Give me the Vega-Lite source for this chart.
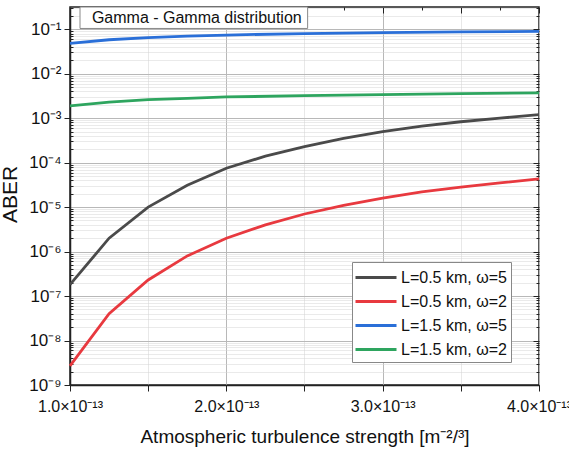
{
  "$schema": "https://vega.github.io/schema/vega-lite/v6.json",
  "width": 469,
  "height": 378,
  "autosize": {"type": "none"},
  "padding": {"left": 70, "top": 7, "right": 30, "bottom": 65},
  "background": "white",
  "config": {
    "font": "Liberation Sans",
    "view": {"stroke": "#222222", "strokeWidth": 1.5},
    "axis": {"labelFont": "Liberation Sans", "titleFont": "Liberation Sans", "labelColor": "#111", "titleColor": "#111", "domainColor": "#222", "tickColor": "#222", "domainWidth": 1.5}
  },
  "layer": [
    {
      "data": {"values": [
        {"x": 1.0e-13, "y": 1.8e-7, "series": "L=0.5 km, ω=5"},
        {"x": 1.25e-13, "y": 2.0e-6, "series": "L=0.5 km, ω=5"},
        {"x": 1.5e-13, "y": 1.0e-5, "series": "L=0.5 km, ω=5"},
        {"x": 1.75e-13, "y": 3.1e-5, "series": "L=0.5 km, ω=5"},
        {"x": 2.0e-13, "y": 7.5e-5, "series": "L=0.5 km, ω=5"},
        {"x": 2.25e-13, "y": 1.4e-4, "series": "L=0.5 km, ω=5"},
        {"x": 2.5e-13, "y": 2.3e-4, "series": "L=0.5 km, ω=5"},
        {"x": 2.75e-13, "y": 3.5e-4, "series": "L=0.5 km, ω=5"},
        {"x": 3.0e-13, "y": 5.0e-4, "series": "L=0.5 km, ω=5"},
        {"x": 3.25e-13, "y": 6.6e-4, "series": "L=0.5 km, ω=5"},
        {"x": 3.5e-13, "y": 8.3e-4, "series": "L=0.5 km, ω=5"},
        {"x": 3.75e-13, "y": 1.0e-3, "series": "L=0.5 km, ω=5"},
        {"x": 4.0e-13, "y": 1.2e-3, "series": "L=0.5 km, ω=5"},
        {"x": 1.0e-13, "y": 2.7e-9, "series": "L=0.5 km, ω=2"},
        {"x": 1.25e-13, "y": 4.0e-8, "series": "L=0.5 km, ω=2"},
        {"x": 1.5e-13, "y": 2.3e-7, "series": "L=0.5 km, ω=2"},
        {"x": 1.75e-13, "y": 8.0e-7, "series": "L=0.5 km, ω=2"},
        {"x": 2.0e-13, "y": 2.0e-6, "series": "L=0.5 km, ω=2"},
        {"x": 2.25e-13, "y": 4.0e-6, "series": "L=0.5 km, ω=2"},
        {"x": 2.5e-13, "y": 7.0e-6, "series": "L=0.5 km, ω=2"},
        {"x": 2.75e-13, "y": 1.1e-5, "series": "L=0.5 km, ω=2"},
        {"x": 3.0e-13, "y": 1.6e-5, "series": "L=0.5 km, ω=2"},
        {"x": 3.25e-13, "y": 2.2e-5, "series": "L=0.5 km, ω=2"},
        {"x": 3.5e-13, "y": 2.8e-5, "series": "L=0.5 km, ω=2"},
        {"x": 3.75e-13, "y": 3.5e-5, "series": "L=0.5 km, ω=2"},
        {"x": 4.0e-13, "y": 4.3e-5, "series": "L=0.5 km, ω=2"},
        {"x": 1.0e-13, "y": 0.048, "series": "L=1.5 km, ω=5"},
        {"x": 1.25e-13, "y": 0.058, "series": "L=1.5 km, ω=5"},
        {"x": 1.5e-13, "y": 0.065, "series": "L=1.5 km, ω=5"},
        {"x": 1.75e-13, "y": 0.070, "series": "L=1.5 km, ω=5"},
        {"x": 2.0e-13, "y": 0.074, "series": "L=1.5 km, ω=5"},
        {"x": 2.5e-13, "y": 0.080, "series": "L=1.5 km, ω=5"},
        {"x": 3.0e-13, "y": 0.084, "series": "L=1.5 km, ω=5"},
        {"x": 3.5e-13, "y": 0.087, "series": "L=1.5 km, ω=5"},
        {"x": 4.0e-13, "y": 0.089, "series": "L=1.5 km, ω=5"},
        {"x": 1.0e-13, "y": 1.9e-3, "series": "L=1.5 km, ω=2"},
        {"x": 1.25e-13, "y": 2.3e-3, "series": "L=1.5 km, ω=2"},
        {"x": 1.5e-13, "y": 2.6e-3, "series": "L=1.5 km, ω=2"},
        {"x": 1.75e-13, "y": 2.8e-3, "series": "L=1.5 km, ω=2"},
        {"x": 2.0e-13, "y": 3.0e-3, "series": "L=1.5 km, ω=2"},
        {"x": 2.5e-13, "y": 3.2e-3, "series": "L=1.5 km, ω=2"},
        {"x": 3.0e-13, "y": 3.4e-3, "series": "L=1.5 km, ω=2"},
        {"x": 3.5e-13, "y": 3.55e-3, "series": "L=1.5 km, ω=2"},
        {"x": 4.0e-13, "y": 3.7e-3, "series": "L=1.5 km, ω=2"}
      ]},
      "mark": {"type": "line", "strokeWidth": 2.8},
      "encoding": {
        "x": {
          "field": "x", "type": "quantitative",
          "scale": {"domain": [1e-13, 4e-13], "nice": false, "zero": false},
          "axis": {
            "title": "Atmospheric turbulence strength [m⁻²/³]",
            "titleFontSize": 19, "titleFontWeight": "normal", "titlePadding": 13,
            "labelFontSize": 16, "labelPadding": 7, "labelFlush": false,
            "values": [1e-13, 1.5e-13, 2e-13, 2.5e-13, 3e-13, 3.5e-13, 4e-13],
            "labelExpr": "abs(datum.value*1e13 - round(datum.value*1e13)) < 0.01 ? format(datum.value*1e13, '.1f') + '×10⁻¹³' : ''",
            "tickSize": 6,
            "grid": true,
            "gridColor": {"condition": {"test": "abs(datum.value*1e13 - round(datum.value*1e13)) < 0.01", "value": "#b8b8b8"}, "value": "#d0d0d0"},
            "gridDash": {"condition": {"test": "abs(datum.value*1e13 - round(datum.value*1e13)) < 0.01", "value": []}, "value": [1, 1]},
            "gridWidth": 1
          }
        },
        "y": {
          "field": "y", "type": "quantitative",
          "scale": {"type": "log", "domain": [1e-9, 0.316], "nice": false},
          "axis": {
            "title": "ABER", "titleFontSize": 21, "titleFontWeight": "normal", "titlePadding": 8, "titleY": 187,
            "labelFontSize": 17, "labelPadding": 3,
            "values": [1e-9,2e-9,3e-9,4e-9,5e-9,6e-9,7e-9,8e-9,9e-9,1e-8,2e-8,3e-8,4e-8,5e-8,6e-8,7e-8,8e-8,9e-8,1e-7,2e-7,3e-7,4e-7,5e-7,6e-7,7e-7,8e-7,9e-7,1e-6,2e-6,3e-6,4e-6,5e-6,6e-6,7e-6,8e-6,9e-6,1e-5,2e-5,3e-5,4e-5,5e-5,6e-5,7e-5,8e-5,9e-5,1e-4,2e-4,3e-4,4e-4,5e-4,6e-4,7e-4,8e-4,9e-4,1e-3,2e-3,3e-3,4e-3,5e-3,6e-3,7e-3,8e-3,9e-3,1e-2,2e-2,3e-2,4e-2,5e-2,6e-2,7e-2,8e-2,9e-2,0.1,0.2,0.3],
            "labelExpr": "abs(log(datum.value)/LN10 - round(log(datum.value)/LN10)) < 0.001 ? '10⁻' + substring('⁰¹²³⁴⁵⁶⁷⁸⁹', -round(log(datum.value)/LN10), -round(log(datum.value)/LN10) + 1) : ''",
            "tickSize": {"condition": {"test": "abs(log(datum.value)/LN10 - round(log(datum.value)/LN10)) < 0.001", "value": 6}, "value": -3},
            "grid": true,
            "gridColor": {"condition": {"test": "abs(log(datum.value)/LN10 - round(log(datum.value)/LN10)) < 0.001", "value": "#b8b8b8"}, "value": "#d4d4d4"},
            "gridDash": {"condition": {"test": "abs(log(datum.value)/LN10 - round(log(datum.value)/LN10)) < 0.001", "value": []}, "value": [1, 1]},
            "gridWidth": 1
          }
        },
        "color": {
          "field": "series", "type": "nominal",
          "scale": {
            "domain": ["L=0.5 km, ω=5", "L=0.5 km, ω=2", "L=1.5 km, ω=5", "L=1.5 km, ω=2"],
            "range": ["#4a4a4a", "#e8393f", "#2a6fd8", "#2ea55f"]
          },
          "legend": {
            "title": null, "orient": "none", "legendX": 282, "legendY": 255,
            "symbolType": "M-1.2,0H2.9", "symbolSize": 400, "symbolStrokeWidth": 3,
            "labelFontSize": 16, "labelColor": "#111", "labelFont": "Liberation Sans",
            "rowPadding": 4, "padding": 4, "labelOffset": 22,
            "fillColor": "white", "strokeColor": "#888888", "cornerRadius": 0
          }
        }
      }
    },
    {
      "data": {"values": [{"label": "Gamma - Gamma distribution"}]},
      "mark": {"type": "rect", "fill": "white", "stroke": "#888888", "strokeWidth": 1},
      "encoding": {
        "x": {"datum": 1.064e-13, "type": "quantitative", "axis": {"orient": "top", "title": null, "labels": false, "domain": false, "grid": false, "values": [1e-13, 1.25e-13, 1.5e-13, 1.75e-13, 2e-13, 2.25e-13, 2.5e-13, 2.75e-13, 3e-13, 3.25e-13, 3.5e-13, 3.75e-13, 4e-13], "tickSize": {"condition": {"test": "abs(datum.value*2e13 - round(datum.value*2e13)) < 0.01", "value": -6}, "value": -3}}},
        "x2": {"datum": 2.52e-13},
        "y": {"datum": 0.316, "type": "quantitative", "axis": {"orient": "right", "title": null, "labels": false, "domain": false, "grid": false,
          "values": [1e-9,2e-9,3e-9,4e-9,5e-9,6e-9,7e-9,8e-9,9e-9,1e-8,2e-8,3e-8,4e-8,5e-8,6e-8,7e-8,8e-8,9e-8,1e-7,2e-7,3e-7,4e-7,5e-7,6e-7,7e-7,8e-7,9e-7,1e-6,2e-6,3e-6,4e-6,5e-6,6e-6,7e-6,8e-6,9e-6,1e-5,2e-5,3e-5,4e-5,5e-5,6e-5,7e-5,8e-5,9e-5,1e-4,2e-4,3e-4,4e-4,5e-4,6e-4,7e-4,8e-4,9e-4,1e-3,2e-3,3e-3,4e-3,5e-3,6e-3,7e-3,8e-3,9e-3,1e-2,2e-2,3e-2,4e-2,5e-2,6e-2,7e-2,8e-2,9e-2,0.1,0.2,0.3],
          "tickSize": {"condition": {"test": "abs(log(datum.value)/LN10 - round(log(datum.value)/LN10)) < 0.001", "value": -6}, "value": -3}}},
        "y2": {"datum": 0.104}
      }
    },
    {
      "data": {"values": [{"label": "Gamma - Gamma distribution"}]},
      "mark": {"type": "text", "fontSize": 16, "align": "left", "baseline": "middle", "color": "#111", "font": "Liberation Sans"},
      "encoding": {
        "text": {"field": "label", "type": "nominal"},
        "x": {"datum": 1.14e-13, "type": "quantitative", "axis": null},
        "y": {"datum": 0.18, "type": "quantitative", "axis": null}
      }
    }
  ],
  "resolve": {"axis": {"x": "independent", "y": "independent"}}
}
